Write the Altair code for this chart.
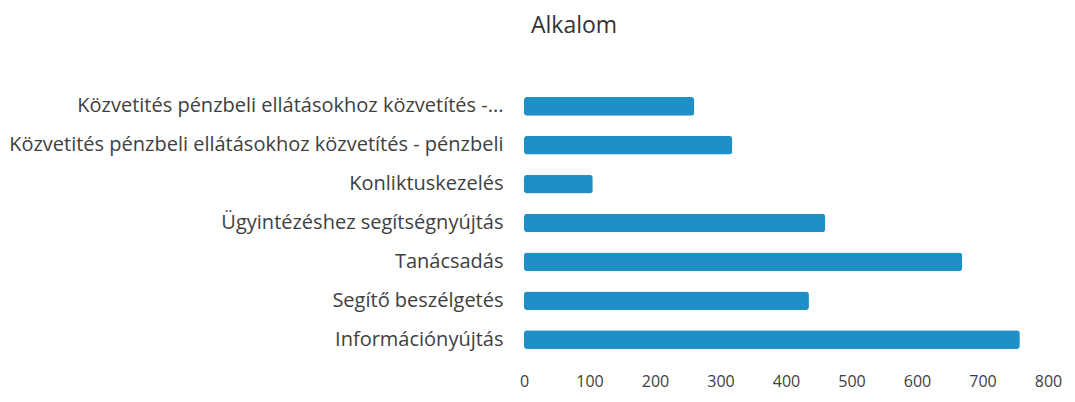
import altair as alt
import pandas as pd

categories = [
    "Közvetités pénzbeli ellátásokhoz közvetítés -...",
    "Közvetités pénzbeli ellátásokhoz közvetítés - pénzbeli",
    "Konliktuskezelés",
    "Ügyintézéshez segítségnyújtás",
    "Tanácsadás",
    "Segítő beszélgetés",
    "Információnyújtás",
]
values = [260, 318, 105, 460, 669, 435, 757]
x_ticks = [0, 100, 200, 300, 400, 500, 600, 700, 800]

df = pd.DataFrame({"cat": categories, "val": values})

FONT = "Open Sans"

chart = (
    alt.Chart(df)
    .mark_bar(color="#1e8fc7", cornerRadius=3)
    .encode(
        x=alt.X(
            "val:Q",
            scale=alt.Scale(domain=[0, 800], nice=False),
            axis=alt.Axis(
                values=x_ticks,
                title=None,
                grid=False,
                domain=False,
                ticks=False,
                labelFlush=False,
                labelFontSize=16,
                labelFont=FONT,
                labelColor="#404040",
                labelBaseline="middle",
                labelPadding=22,
            ),
        ),
        y=alt.Y(
            "cat:N",
            sort=categories,
            scale=alt.Scale(paddingInner=0.52, paddingOuter=0.26),
            axis=alt.Axis(
                title=None,
                domain=False,
                ticks=False,
                labelFontSize=20,
                labelFont=FONT,
                labelColor="#404040",
                labelPadding=21,
                labelLimit=700,
            ),
        ),
    )
    .properties(
        width=524,
        height=272,
        background="white",
        padding={"left": 0, "top": 7, "right": 0, "bottom": 5},
        title=alt.TitleParams(
            "Alkalom",
            font=FONT,
            fontSize=23,
            fontWeight="normal",
            color="#333333",
            anchor="start",
            frame="group",
            dx=7,
            offset=49,
        ),
    )
    .configure_view(strokeWidth=0, stroke=None)
)

chart.save("out.html", embed_options={"renderer": "svg", "actions": False})
